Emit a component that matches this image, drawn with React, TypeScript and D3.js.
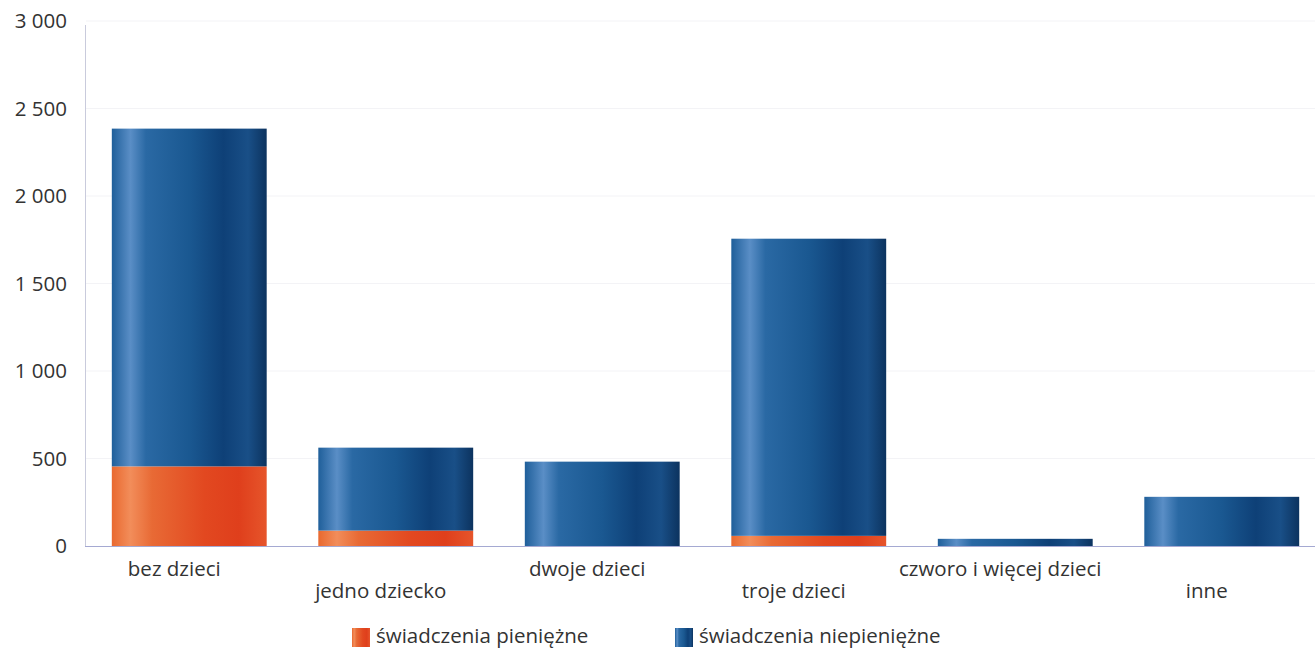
import React from "react";
import * as d3 from "d3";

const categories = ["bez dzieci", "jedno dziecko", "dwoje dzieci", "troje dzieci", "czworo i więcej dzieci", "inne"];
const pieniezne = [455, 88, 0, 58, 0, 0];
const niepieniezne = [1930, 474, 482, 1698, 41, 281];
const yTicks = [0, 500, 1000, 1500, 2000, 2500, 3000];
const seriesNames = ["świadczenia pieniężne", "świadczenia niepieniężne"];

const W = 1315, H = 650;
const x0 = 86, x1 = 1325, yTop = 21, yBottom = 546;

const fmt = (v: number) => {
  const s = String(v);
  return s.length > 3 ? s.slice(0, s.length - 3) + " " + s.slice(-3) : s;
};

export default function App() {
  const x = d3.scaleBand<string>().domain(categories).range([x0, x1]).paddingInner(0.25).paddingOuter(0.125);
  const y = d3.scaleLinear().domain([0, 3000]).range([yBottom, yTop]);
  const font = "'Open Sans', 'DejaVu Sans', sans-serif";
  const fs = 20.5;
  return (
    <svg width={W} height={H} style={{ position: "absolute", left: 0, top: 0, background: "#fff" }} fontFamily={font}>
      <defs>
        <linearGradient id="gBlue" x1="0" y1="0" x2="1" y2="0">
          <stop offset="0%" stopColor="#1f5f9a" />
          <stop offset="12%" stopColor="#5a8ec6" />
          <stop offset="22%" stopColor="#2a69a4" />
          <stop offset="50%" stopColor="#1a5891" />
          <stop offset="72%" stopColor="#0e4077" />
          <stop offset="88%" stopColor="#194f87" />
          <stop offset="100%" stopColor="#0c335f" />
        </linearGradient>
        <linearGradient id="gOrange" x1="0" y1="0" x2="1" y2="0">
          <stop offset="0%" stopColor="#e9692f" />
          <stop offset="12%" stopColor="#f28d5a" />
          <stop offset="26%" stopColor="#e86a35" />
          <stop offset="60%" stopColor="#e24820" />
          <stop offset="82%" stopColor="#df3f1c" />
          <stop offset="100%" stopColor="#e6552b" />
        </linearGradient>
      </defs>
      {yTicks.filter(t => t > 0).map(t => (
        <line key={t} x1={x0} x2={W} y1={y(t)} y2={y(t)} stroke="#f3f3f6" strokeWidth={1} />
      ))}
      <line x1={85.5} x2={85.5} y1={yTop + 4} y2={yBottom} stroke="#c9cbdc" strokeWidth={1} />
      {yTicks.map(t => (
        <text key={t} x={67} y={y(t)} dy="0.35em" textAnchor="end" fontSize={fs} fill="#333">{fmt(t)}</text>
      ))}
      {categories.map((c, i) => {
        const bx = x(c)!;
        const bw = x.bandwidth();
        const p = pieniezne[i];
        const n = niepieniezne[i];
        return (
          <g key={c}>
            {p > 0 && <rect x={bx} width={bw} y={y(p)} height={y(0) - y(p)} fill="url(#gOrange)" />}
            <rect x={bx} width={bw} y={y(p + n)} height={y(p) - y(p + n)} fill="url(#gBlue)" />
            <text x={bx + bw / 2 - 15} y={i % 2 === 0 ? 569 : 591} dy="0.35em" textAnchor="middle" fontSize={fs} fill="#333">{c}</text>
          </g>
        );
      })}
      <line x1={85} x2={W} y1={yBottom + 0.5} y2={yBottom + 0.5} stroke="#a5a9d2" strokeWidth={1} />
      {seriesNames.map((s, i) => {
        const lx = i === 0 ? 352 : 675;
        return (
          <g key={s}>
            <rect x={lx} y={628} width={18} height={19} fill={i === 0 ? "url(#gOrange)" : "url(#gBlue)"} />
            <text x={lx + 24} y={636} dy="0.35em" fontSize={fs} fill="#333">{s}</text>
          </g>
        );
      })}
    </svg>
  );
}
